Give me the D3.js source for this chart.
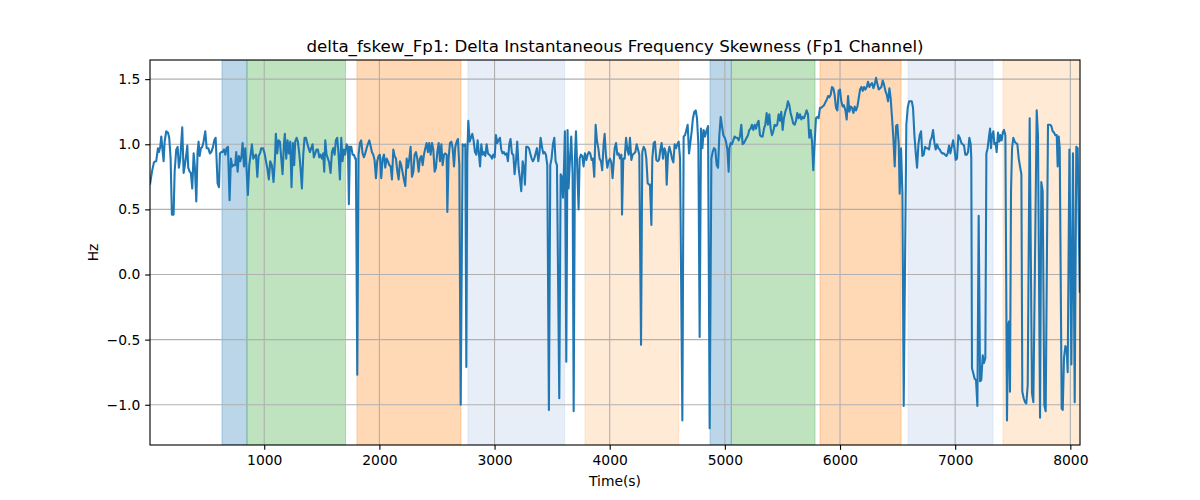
<!DOCTYPE html>
<html><head><meta charset="utf-8">
<script src="https://cdn.jsdelivr.net/npm/d3@7"></script>
<style>body{margin:0;background:#fff}svg{display:block}text{font-family:"DejaVu Sans",sans-serif}</style>
</head><body><svg id="chart" width="1200" height="500"></svg>
<script>
const titleText = "delta_fskew_Fp1: Delta Instantaneous Frequency Skewness (Fp1 Channel)";
const xLabel = "Time(s)";
const yLabel = "Hz";
const xTicks = [1000,2000,3000,4000,5000,6000,7000,8000];
const yTicks = [-1.0,-0.5,0.0,0.5,1.0,1.5];
const xRange = [8, 8084];
const yRange = [-1.309, 1.647];

const bandStart = [633, 850, 1805, 2769, 3785, 4871, 5056, 5826, 6591, 7415];
const bandEnd   = [850, 1706, 2708, 3609, 4599, 5056, 5783, 6530, 7329, 8100];
const bandKind  = [0, 1, 2, 3, 4, 0, 1, 2, 3, 4];

const timeSeconds = [
8,25,42,54,62,77,86,97,106,114,126,135,149,164,175,187,198,213,222,236,248,259,271,280,288,300,311,323,332,340,352,363,375,387,398,410,421,430,439,450,462,473,488,500,514,528,540,555,566,578,586,595,607,615,627,638,650,662,673,685,699,711,722,734,748,757,769,780,792,803,812,824,835,847,858,870,882,893,905,916,928,940,951,963,974,989,1003,
1011,1026,1040,1052,1066,1081,1093,1101,1113,1124,1136,1148,1159,1171,1179,1191,1203,1214,1226,1237,1249,1260,1269,1281,1292,1304,1315,1327,1339,1350,1362,1373,1385,1397,1408,1420,1431,1443,1454,1466,1478,1489,1501,1512,1521,1530,1541,1553,1564,1576,1588,1599,1611,1622,1634,1645,1657,1669,1680,1692,1703,1715,1727,1735,1744,1756,1767,1779,1790,1796,1808,1819,1831,1842,1854,1866,1877,1889,1900,1912,1923,1935,1947,1958,1970,1981,1993,2004,2016,
2028,2040,2051,2063,2074,2086,2098,2109,2121,2132,2144,2156,2167,2179,2190,2202,2213,2225,2237,2248,2260,2271,2283,2295,2306,2318,2329,2341,2352,2364,2376,2387,2399,2410,2422,2433,2445,2457,2468,2480,2491,2503,2515,2526,2538,2549,2561,2572,2584,2590,2601,2613,2625,2636,2648,2659,2671,2682,2694,2706,2723,2735,2746,2755,2763,2772,2784,2795,2807,2818,2830,2842,2853,2865,2874,2885,2897,2908,2920,2931,2943,2955,2966,2978,2989,3001,3012,3024,
3035,3047,3058,3070,3081,3093,3105,3116,3128,3139,3151,3163,3174,3186,3197,3209,3220,3232,3244,3255,3264,3275,3287,3299,3310,3322,3333,3345,3357,3368,3380,3391,3400,3412,3423,3435,3446,3458,3472,3484,3495,3507,3519,3530,3542,3562,3574,3585,3594,3603,3611,3623,3634,3643,3655,3666,3678,3687,3698,3707,3718,3730,3739,3750,3762,3773,3785,3797,3808,3820,3831,3843,3854,3866,3878,3889,3901,3912,3924,3935,3947,3956,3967,3979,3991,4002,4014,4025,
4043,4055,4066,4078,4089,4101,4107,4118,4130,4142,4153,4165,4176,4188,4199,4211,4223,4234,4246,4257,4272,4283,4295,4307,4318,4330,4341,4350,4362,4370,4382,4393,4405,4417,4428,4440,4451,4463,4475,4486,4495,4506,4518,4530,4541,4553,4564,4576,4587,4599,4611,4631,4642,4654,4666,4677,4689,4700,4712,4723,4735,4747,4758,4770,4781,4793,4805,4816,4828,4839,4854,4868,4883,4894,4906,4917,4929,4941,4952,4964,4975,4987,4999,5010,5022,5033,
5039,5050,5062,5073,5085,5096,5108,5120,5131,5143,5154,5166,5178,5189,5201,5212,5224,5235,5247,5259,5270,5282,5293,5305,5317,5328,5340,5351,5363,5374,5386,5398,5409,5421,5432,5444,5455,5467,5479,5490,5502,5513,5525,5537,5548,5560,5571,5583,5594,5606,5618,5629,5641,5652,5664,5675,5687,5699,5710,5722,5733,5745,5757,5768,5780,5791,5803,5814,5826,5838,5849,5861,5872,5884,5896,5907,5919,5930,5942,5953,5965,5977,5988,6000,6011,6023,6034,
6047,6058,6070,6081,6093,6104,6116,6128,6139,6151,6162,6174,6186,6197,6209,6220,6232,6243,6255,6267,6278,6290,6301,6313,6325,6336,6348,6359,6371,6382,6394,6406,6417,6429,6440,6452,6463,6475,6487,6498,6510,6518,6530,6542,6553,6576,6588,6600,6611,6623,6634,6646,6657,6669,6681,6692,6704,6715,6727,6738,6750,6762,6773,6785,6796,6808,6820,6831,6843,6854,6866,6877,6889,6901,6912,6924,6935,6947,6958,6970,6982,6993,7005,7016,7028,7040,
7054,7065,7077,7088,7100,7112,7123,7135,7140,7146,7158,7169,7181,7193,7204,7216,7227,7239,7250,7262,7271,7282,7294,7303,7311,7320,7332,7340,7352,7360,7372,7384,7392,7404,7413,7424,7436,7450,7459,7468,7476,7485,7494,7505,7517,7528,7540,7552,7563,7575,7583,7595,7607,7618,7630,7647,7667,7679,7708,7719,7737,7748,7760,7774,7786,7806,7824,7835,7847,7858,7870,7882,7890,7899,7908,7925,7934,7945,7957,7968,7977,7992,8009,8023,8038,8052,8064,8082
];

const skewHz = [
0.69,0.79,0.86,0.87,0.87,0.97,0.94,0.98,1.06,0.98,0.87,1.02,1.10,1.09,1.05,0.89,0.46,0.46,0.79,0.96,0.98,0.82,0.89,1.02,1.13,0.78,0.84,0.92,0.99,0.82,0.79,0.78,0.66,0.93,0.82,0.56,0.94,1.02,0.91,0.97,0.98,1.02,1.10,0.97,0.97,0.93,0.94,0.98,1.03,1.05,0.89,0.70,0.67,0.93,0.94,0.94,0.96,0.92,0.97,0.98,0.57,0.89,0.83,0.84,0.84,0.94,0.79,0.91,0.87,0.91,1.01,0.83,0.97,0.80,0.61,0.84,0.92,1.00,0.89,0.91,0.92,0.75,0.91,0.93,0.97,0.97,0.93,
0.89,0.82,0.73,0.87,0.84,0.71,0.89,1.08,0.93,1.03,1.02,0.89,0.77,1.00,1.08,0.89,1.03,0.93,1.02,0.67,1.01,0.84,1.02,1.05,1.02,0.93,0.82,0.66,0.92,1.05,1.05,1.01,0.97,0.94,0.97,1.00,0.90,0.93,0.96,0.96,0.90,0.92,0.89,0.93,0.79,1.03,0.92,0.89,0.86,0.78,0.94,0.97,0.92,1.03,1.05,0.93,0.73,1.05,0.87,0.96,0.92,1.00,0.98,0.54,0.98,0.98,0.92,0.92,0.89,0.89,-0.77,0.92,1.01,1.03,0.93,0.90,0.93,0.97,1.00,1.03,0.99,0.94,0.92,0.88,0.74,0.87,0.91,0.92,0.74,
0.89,0.92,0.82,0.89,0.87,0.84,0.83,0.73,0.96,0.91,0.89,0.79,0.73,0.87,0.84,0.78,0.73,0.68,0.89,0.82,0.89,0.98,0.75,0.79,0.92,0.94,0.89,0.79,0.89,0.91,0.84,0.92,0.97,1.01,0.94,1.01,0.92,1.01,0.96,0.79,0.82,0.94,1.01,0.87,1.00,0.84,0.92,0.93,0.92,0.48,0.89,1.01,1.02,0.97,0.83,0.98,1.02,1.04,0.84,-1.00,1.00,0.99,1.00,-0.71,0.89,1.18,1.02,1.05,1.08,1.03,0.94,0.92,1.03,0.92,0.83,1.00,0.92,0.94,0.91,1.00,0.93,0.92,0.91,0.89,0.92,0.90,1.07,1.01,
1.03,1.05,0.96,0.93,0.94,0.92,0.93,0.87,1.00,1.04,0.93,0.92,0.77,0.87,1.02,0.82,0.74,0.64,0.87,0.82,0.69,0.98,0.98,0.97,0.93,0.89,0.87,0.89,0.93,0.97,0.87,0.94,1.05,0.98,0.93,0.94,0.92,0.84,-1.04,0.84,0.89,1.00,1.05,0.87,0.84,-0.95,0.77,0.75,0.59,0.82,1.10,-0.67,1.11,0.66,0.89,1.06,0.77,-1.05,0.89,1.10,0.82,0.50,0.89,0.92,0.91,0.83,0.93,0.88,0.92,0.94,0.93,0.88,0.89,0.75,1.15,1.03,0.97,0.89,0.87,0.80,1.00,1.08,0.92,0.82,0.87,0.89,0.86,0.74,
0.97,1.01,0.92,0.93,0.89,0.92,0.46,0.89,0.89,1.05,0.96,0.92,1.05,0.88,0.92,0.93,0.94,1.00,0.96,0.92,-0.54,0.94,0.98,0.96,0.89,0.70,0.69,0.69,0.38,0.89,1.01,1.02,0.88,0.87,0.88,0.96,1.01,0.89,0.97,0.94,0.69,0.92,0.98,0.94,0.89,0.86,1.00,0.97,1.00,1.02,0.89,-1.12,1.06,1.07,1.11,1.15,0.93,1.01,1.10,1.20,1.25,1.26,1.20,1.00,-0.48,1.12,0.97,1.11,1.06,1.10,1.14,-1.18,0.89,0.94,0.97,0.96,0.84,0.82,1.07,1.21,1.14,1.07,1.05,1.02,0.96,0.79,
0.97,1.01,1.00,1.03,1.06,1.05,1.05,1.03,1.06,1.15,1.00,1.01,1.03,1.05,1.07,1.11,1.12,1.15,1.11,1.15,1.12,1.16,1.18,1.07,1.06,1.06,1.12,1.15,1.24,1.15,1.23,1.12,1.07,1.10,1.15,1.14,1.15,1.23,1.18,1.25,1.11,1.20,1.25,1.28,1.33,1.30,1.24,1.20,1.16,1.15,1.18,1.24,1.20,1.23,1.19,1.21,1.20,1.23,1.26,1.23,1.05,1.11,1.02,0.80,1.02,1.20,1.21,1.20,1.28,1.28,1.29,1.30,1.32,1.34,1.37,1.36,1.38,1.44,1.43,1.38,1.28,1.26,1.41,1.42,1.33,1.29,1.30,
1.26,1.19,1.37,1.25,1.29,1.28,1.24,1.29,1.26,1.29,1.35,1.42,1.44,1.41,1.44,1.42,1.44,1.48,1.44,1.46,1.47,1.43,1.46,1.51,1.46,1.42,1.43,1.44,1.49,1.46,1.41,1.38,1.33,1.43,1.35,1.20,1.05,0.83,1.14,1.15,1.00,0.62,0.97,0.62,-1.01,1.15,1.28,1.33,1.33,1.33,1.28,1.07,0.94,0.82,1.00,1.07,1.10,0.91,0.92,0.98,0.97,0.97,0.96,1.03,1.05,1.11,1.01,0.96,1.00,0.97,0.96,0.94,0.93,0.93,0.92,0.91,0.93,0.99,0.93,0.98,1.03,0.97,0.88,0.89,1.07,1.05,
1.01,1.00,0.99,0.92,0.92,0.94,1.05,1.00,0.89,-0.72,-0.76,-0.80,-0.81,-1.01,0.45,-0.82,-0.81,-0.62,-0.68,-0.64,0.93,0.97,1.06,1.12,0.97,1.07,1.10,1.00,1.01,0.94,1.09,1.02,1.07,1.03,1.09,1.11,1.07,-1.12,-0.39,-0.36,-0.90,0.64,0.97,1.05,1.02,1.01,1.00,0.89,0.83,0.77,-0.90,-0.95,-0.98,-0.99,-0.85,1.20,-0.91,-0.98,1.26,1.07,-1.10,0.71,0.64,-1.00,-1.05,1.15,1.15,1.14,1.10,1.09,1.07,1.07,0.83,1.06,0.97,-1.03,-1.04,-0.64,-0.55,-0.57,-0.75,0.96,-0.69,0.93,-0.98,0.98,0.97,-0.14
];

const margin = {left:150, right:1080, top:60, bottom:445};
const tickLen = 4.86, tickPad = 4.86;
const svg = d3.select("#chart");
const x = d3.scaleLinear().domain(xRange).range([margin.left, margin.right]);
const y = d3.scaleLinear().domain(yRange).range([margin.bottom, margin.top]);
const kindColor = d3.scaleOrdinal().domain([0,1,2,3,4])
  .range(["#1f77b4","#2ca02c","#ff7f0e","#aec7e8","#ffbb78"]);

svg.append("rect").attr("width",1200).attr("height",500).attr("fill","#fff");
svg.append("defs").append("clipPath").attr("id","plotClip").append("rect")
  .attr("x",margin.left).attr("y",margin.top)
  .attr("width",margin.right-margin.left).attr("height",margin.bottom-margin.top);

const plot = svg.append("g").attr("clip-path","url(#plotClip)");

// shaded bands
plot.append("g").selectAll("rect").data(d3.range(bandStart.length)).join("rect")
  .attr("x", i => x(bandStart[i]))
  .attr("width", i => x(bandEnd[i]) - x(bandStart[i]))
  .attr("y", margin.top).attr("height", margin.bottom - margin.top)
  .attr("fill", i => kindColor(bandKind[i])).attr("fill-opacity", 0.3)
  .attr("stroke", i => kindColor(bandKind[i])).attr("stroke-opacity", 0.3).attr("stroke-width", 1);

// grid
const grid = plot.append("g").attr("stroke","#b0b0b0").attr("stroke-width",1.11);
grid.selectAll("line.gx").data(xTicks).join("line").attr("class","gx")
  .attr("x1",d=>x(d)).attr("x2",d=>x(d)).attr("y1",margin.top).attr("y2",margin.bottom);
grid.selectAll("line.gy").data(yTicks).join("line").attr("class","gy")
  .attr("y1",d=>y(d)).attr("y2",d=>y(d)).attr("x1",margin.left).attr("x2",margin.right);

// data line
const pts = d3.zip(timeSeconds, skewHz);
plot.append("path").datum(pts)
  .attr("fill","none").attr("stroke","#1f77b4").attr("stroke-width",2.08)
  .attr("stroke-linejoin","round").attr("stroke-linecap","butt")
  .attr("d", d3.line().x(d=>x(d[0])).y(d=>y(d[1])));

// axes
const xAxis = svg.append("g").attr("transform",`translate(0,${margin.bottom})`)
  .call(d3.axisBottom(x).tickValues(xTicks).tickFormat(d3.format("d")).tickSize(tickLen).tickPadding(tickPad));
const yAxis = svg.append("g").attr("transform",`translate(${margin.left},0)`)
  .call(d3.axisLeft(y).tickValues(yTicks).tickFormat(d3.format(".1f")).tickSize(tickLen).tickPadding(tickPad));
[xAxis,yAxis].forEach(a=>{
  a.select(".domain").remove();
  a.selectAll(".tick line").attr("stroke","#000").attr("stroke-width",1.11);
  a.selectAll(".tick text").attr("fill","#000").style("font-size","13.89px").style("font-family","'DejaVu Sans', sans-serif");
});
yAxis.selectAll(".tick text").text(d => d3.format(".1f")(d).replace("-", "\u2212"));

// spines
svg.append("rect").attr("x",margin.left).attr("y",margin.top)
  .attr("width",margin.right-margin.left).attr("height",margin.bottom-margin.top)
  .attr("fill","none").attr("stroke","#000").attr("stroke-width",1.11);

// labels
svg.append("text").attr("x",(margin.left+margin.right)/2).attr("y",52)
  .attr("text-anchor","middle").style("font-size","16.67px").attr("fill","#000").text(titleText);
svg.append("text").attr("x",(margin.left+margin.right)/2).attr("y",486)
  .attr("text-anchor","middle").style("font-size","13.89px").attr("fill","#000").text(xLabel);
svg.append("text").attr("transform",`translate(98,${(margin.top+margin.bottom)/2}) rotate(-90)`)
  .attr("text-anchor","middle").style("font-size","13.89px").attr("fill","#000").text(yLabel);
</script>
</body></html>
